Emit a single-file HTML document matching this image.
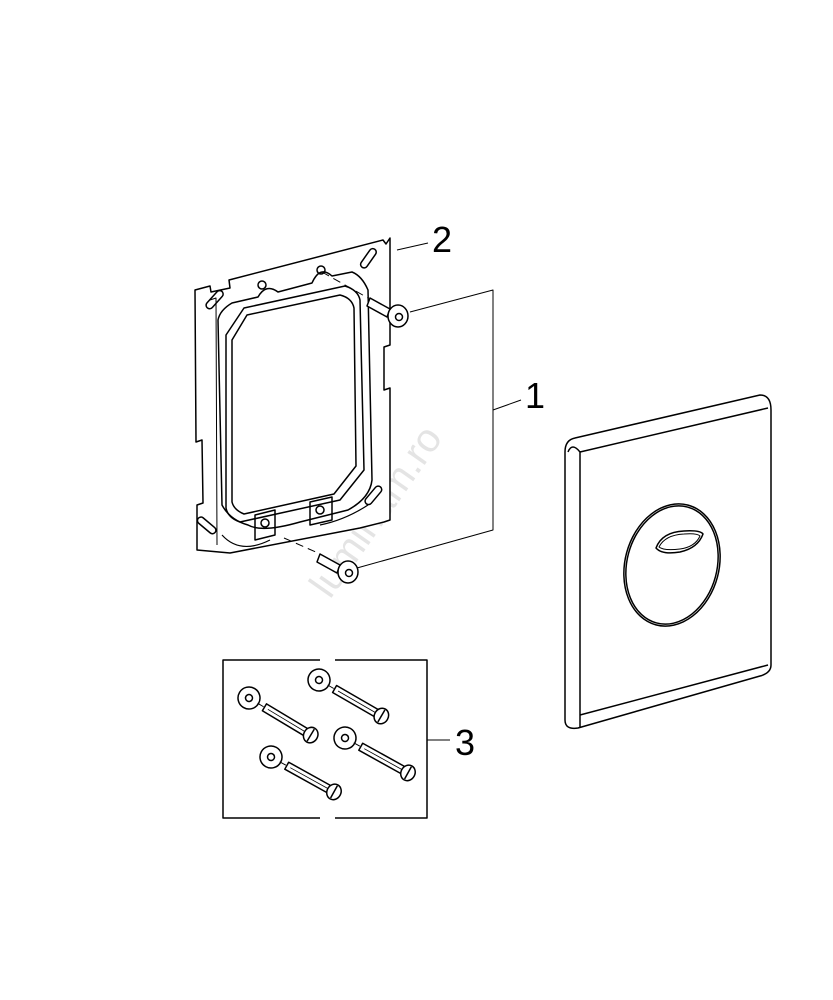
<!DOCTYPE html>
<html><head><style>body{margin:0;background:#fff}svg{display:block}text{font-family:"Liberation Sans",sans-serif;font-size:36px;font-weight:normal}</style></head>
<body>
<svg width="833" height="1000" viewBox="0 0 833 1000" fill="none" stroke="#000" stroke-width="1.5" stroke-linejoin="round">
<defs>
<g id="scr">
<circle cx="0" cy="0" r="11" fill="#fff"/>
<circle cx="0" cy="0" r="3.5"/>
<line x1="10" y1="0" x2="17" y2="0" stroke-width="1"/>
<rect x="18" y="-4" width="50" height="8" fill="#fff"/>
<line x1="22" y1="0" x2="66" y2="0" stroke-width="0.8"/>
<ellipse cx="72" cy="0" rx="7" ry="8" fill="#fff"/>
<line x1="72" y1="-7" x2="72" y2="7"/>
</g>
</defs>
<text x="330" y="600" transform="rotate(-55 330 600)" fill="#e4e4e4" stroke="none" style="font-size:40px">luminam.ro</text>
<!-- frame plate -->
<path d="M195 290 L210 286 L211 292 L230 288 L229 280 L383 240 L386 244 L390 238 L390 345 L384 347 L384 390 L390 388 L390 520 L384 522 L360 528 L230 553 L197 550 L197 505 L203 503 L202 440 L196 442 Z" fill="#fff"/>
<path d="M210 300 L216 298 L217 545" stroke-width="1"/>
<path d="M218 320 Q220 310 232 303 L258 297 Q266 283 278 292 L312 283 Q320 265 332 276 L352 272 Q362 276 368 290 L372 480 Q370 498 348 510 L300 522 Q262 533 248 525 Q230 520 222 505 Z" fill="#fff"/>
<path d="M226 335 L244 308 L345 286 Q358 290 360 300 L364 470 L340 500 L240 522 Q228 518 226 508 Z"/>
<path d="M232 340 L247 315 L340 295 Q352 298 354 308 L356 466 L334 494 L244 514 Q234 510 232 502 Z"/>
<rect x="204" y="296" width="22" height="7" rx="3.5" transform="rotate(-48 215 300)"/>
<rect x="357" y="255" width="22" height="7" rx="3.5" transform="rotate(-55 368 258)"/>
<rect x="196" y="522" width="22" height="7" rx="3.5" transform="rotate(40 207 525)"/>
<rect x="362" y="492" width="22" height="7" rx="3.5" transform="rotate(-50 373 495)"/>
<circle cx="262" cy="285" r="4"/><circle cx="321" cy="270" r="4"/>
<circle cx="265" cy="523" r="4"/><circle cx="320" cy="510" r="4"/>
<path d="M255 515 L275 510 L275 535 L255 540 Z M310 502 L332 497 L332 520 L310 525 Z"/>
<path d="M222 535 Q240 555 270 540 M320 525 Q345 520 368 505" stroke-width="1.2"/>
<line x1="322" y1="272" x2="368" y2="298" stroke-dasharray="8 5" stroke-width="1"/>
<path d="M370 298 L390 309 L387 317 L367 306 Z" fill="#fff"/>
<ellipse cx="398" cy="316" rx="10" ry="11" fill="#fff"/><circle cx="399" cy="317" r="3.5"/>
<line x1="284" y1="538" x2="318" y2="553" stroke-dasharray="8 5" stroke-width="1"/>
<path d="M320 554 L340 565 L337 573 L317 562 Z" fill="#fff"/>
<ellipse cx="348" cy="572" rx="10" ry="11" fill="#fff"/><circle cx="349" cy="573" r="3.5"/>
<line x1="397" y1="250" x2="428" y2="243" stroke-width="1"/>
<text x="432" y="252" fill="#000" stroke="none">2</text>
<polyline points="410,312 493,290 493,530 357,568" stroke-width="1"/>
<line x1="493" y1="410" x2="521" y2="400" stroke-width="1"/>
<text x="525" y="408" fill="#000" stroke="none">1</text>
<!-- plate -->
<path d="M575 438 L760 395 Q771 395 771 410 L771 665 Q771 673 760 676 L578 728 Q565 730 565 720 L565 452 Q565 440 575 438 Z" fill="#fff"/>
<path d="M580 452 L768 408 M580 452 L580 727 M568 452 Q572 442 580 452 M580 715 L768 665"/>
<ellipse cx="672" cy="565" rx="47" ry="62" transform="rotate(15 672 565)"/>
<ellipse cx="672" cy="565" rx="45" ry="60" transform="rotate(15 672 565)"/>
<path d="M656 548 Q662 532 684 531 Q700 530 703 534 Q698 548 680 552 Q662 555 656 548 Z"/>
<path d="M659 547 Q665 535 684 534 Q697 533 700 536 Q695 547 680 549 Q664 551 659 547 Z" stroke-width="1"/>
<!-- box 3 -->
<path d="M320 660 L223 660 L223 818 L320 818 M335 818 L427 818 L427 660 L335 660"/>
<line x1="427" y1="740" x2="450" y2="740" stroke-width="1"/>
<text x="455" y="755" fill="#000" stroke="none">3</text>
<use href="#scr" transform="translate(249 698) rotate(31)"/>
<use href="#scr" transform="translate(319 680) rotate(30)"/>
<use href="#scr" transform="translate(345 738) rotate(29)"/>
<use href="#scr" transform="translate(271 757) rotate(29)"/>
</svg>
</body></html>
